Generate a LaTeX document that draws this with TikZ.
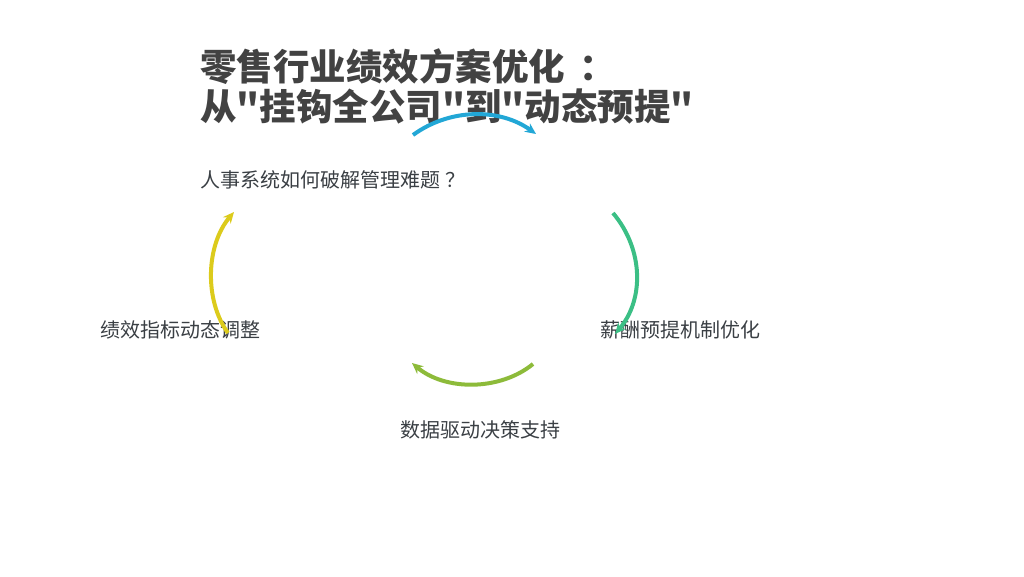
\documentclass[tikz,border=0pt]{standalone}
\usepackage{fontspec}
\newfontfamily\cjk{Noto Sans CJK SC}
\usetikzlibrary{%
    arrows.meta,
    positioning
}

\definecolor{titlegray}{HTML}{424242}
\definecolor{textgray}{HTML}{3A3F44}
\definecolor{arcblue}{HTML}{22A7D6}
\definecolor{arcgreen}{HTML}{3BBF85}
\definecolor{arcolive}{HTML}{8DBB3A}
\definecolor{arcyellow}{HTML}{DCCB1C}

\tikzset{
    headline/.style={inner sep=0pt, anchor=base west, text=titlegray,
                     font=\cjk\bfseries\fontsize{36.5}{40}\selectfont},
    subline/.style={inner sep=0pt, anchor=base west, text=textgray,
                    font=\cjk\fontsize{20}{24}\selectfont},
    cyclelabel/.style={inner sep=0pt, anchor=base west, text=textgray,
                       font=\cjk\fontsize{20}{24}\selectfont},
    cyclearrow/.style={line width=4pt, -{Stealth[length=11pt,width=10pt]}}
}

\begin{document}
\begin{tikzpicture}[x=1pt, y=-1pt]
    \useasboundingbox (0,0) rectangle (1024,576);

    \node[headline] (title1) at (200,80) {零售行业绩效方案优化\hspace{14pt}：};
    \node[headline] (title2) at (200,120) {从"挂钩全公司"到"动态预提"};
    \node[subline]  (question) at (200,187) {人事系统如何破解管理难题\hspace{5pt}？};

    \node[cyclelabel] (indicator) at (100,337) {绩效指标动态调整};
    \node[cyclelabel] (accrual)   at (600,337) {薪酬预提机制优化};
    \node[cyclelabel] (data)      at (400,437) {数据驱动决策支持};

    % arc end points round the cycle
    \coordinate (t1) at (413,135);  \coordinate (t2) at (536,134);
    \coordinate (r1) at (613,213);  \coordinate (r2) at (615,334);
    \coordinate (b1) at (533,364);  \coordinate (b2) at (412,363);
    \coordinate (l1) at (228,333);  \coordinate (l2) at (234,212);

    \draw[cyclearrow, arcblue]   (t1) .. controls (450,108) and (500,108) .. (t2);
    \draw[cyclearrow, arcgreen]  (r1) .. controls (644,250) and (644,300) .. (r2);
    \draw[cyclearrow, arcolive]  (b1) .. controls (500,391) and (445,391) .. (b2);
    \draw[cyclearrow, arcyellow] (l1) .. controls (204,300) and (206,245) .. (l2);
\end{tikzpicture}
\end{document}
